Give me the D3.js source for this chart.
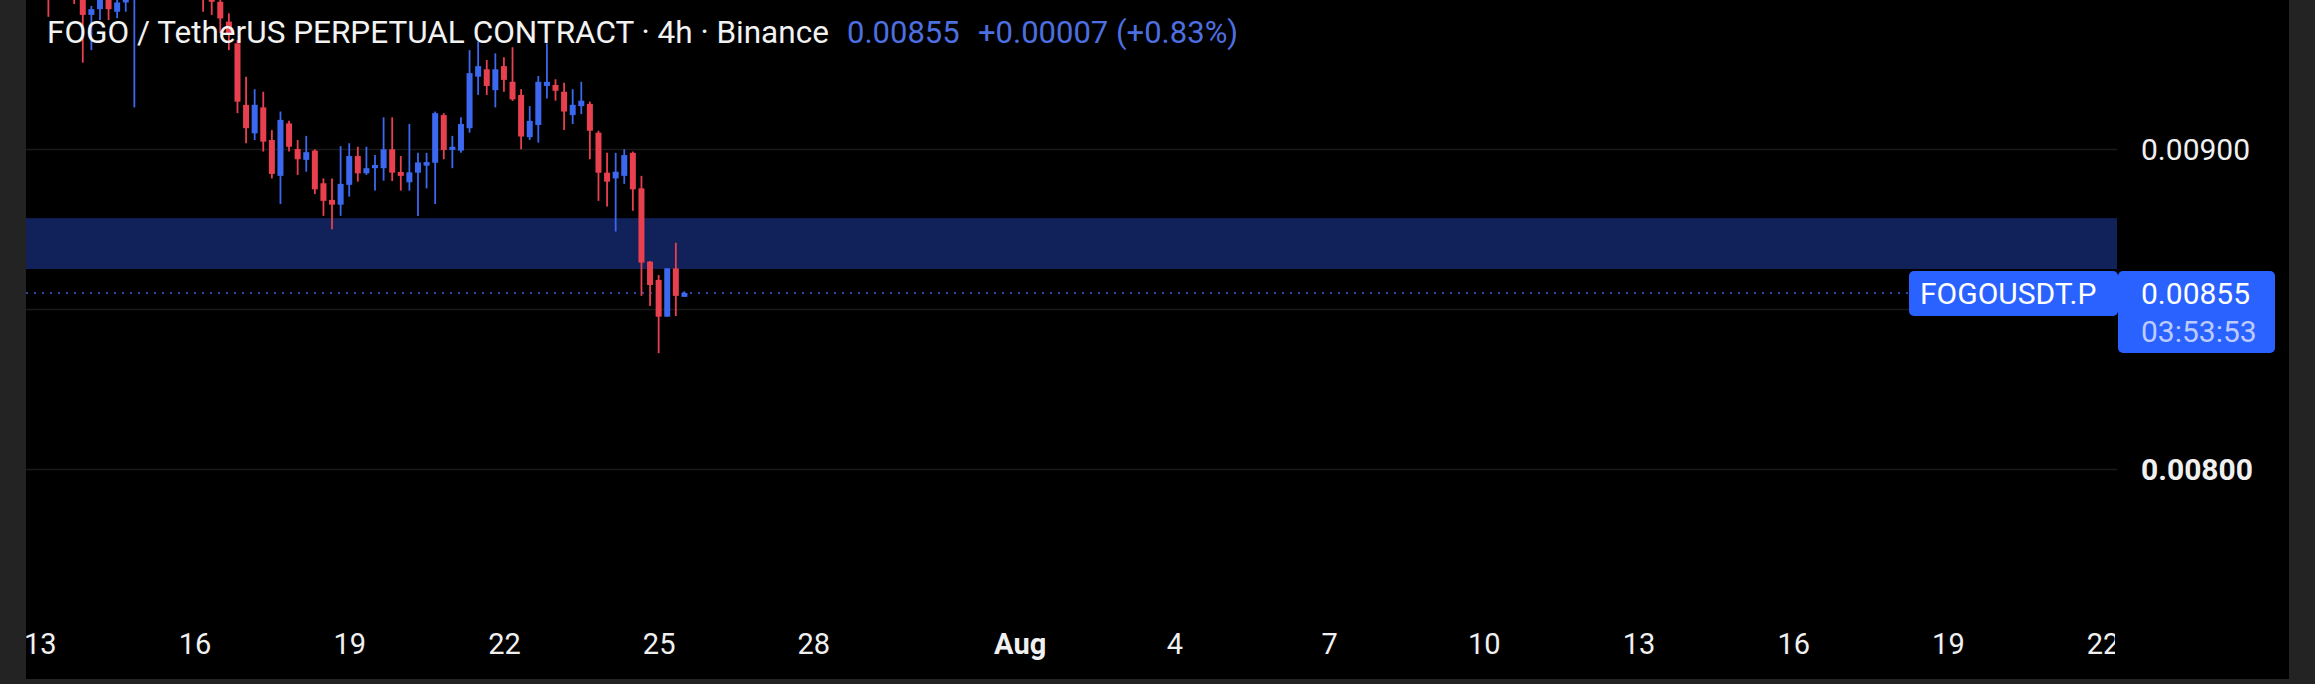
<!DOCTYPE html>
<html>
<head>
<meta charset="utf-8">
<script src="https://cdn.jsdelivr.net/npm/d3@7"></script>
<style>
  html, body { margin: 0; padding: 0; background: #000; }
  svg { display: block; }
  text { font-family: Roboto, "Noto Sans", sans-serif; }
</style>
</head>
<body>
<svg id="chart" width="2315" height="684"></svg>
<script>
// ---- data (4h candles, FOGOUSDT.P) ----
const firstCandle = "2025-07-13T04:00:00Z";
const candleHours = 4;
const opens  = [0.00958,0.00950,0.00962,0.00955,0.00950,0.009419,0.009437,0.00952,0.009429,0.009458,
                0.00952,0.00957,0.00965,0.00961,0.00968,0.00963,0.00955,0.00958,0.00953,0.00947,
                0.00946,0.009398,0.00933,0.009138,0.009049,0.00913,0.009028,0.008916,0.00908,0.00900,
                0.008966,0.008995,0.008893,0.008841,0.008826,0.008888,0.008978,0.008924,0.00894,0.00894,
                0.008999,0.008928,0.008896,0.008926,0.008948,0.008957,0.009106,0.008997,0.008995,0.009065,
                0.009226,0.009249,0.009184,0.009259,0.00921,0.009169,0.009037,0.009075,0.009197,0.00920,
                0.009179,0.009106,0.009134,0.009141,0.009051,0.008926,0.008908,0.008916,0.008988,0.008877,
                0.008648,0.008591,0.008476,0.008627,0.008538];
const highs  = [0.00962,0.00966,0.00965,0.00958,0.00952,0.009447,0.00955,0.00953,0.00950,0.00954,
                0.00960,0.00968,0.00972,0.00970,0.00975,0.00966,0.00962,0.00960,0.00955,0.00949,
                0.00947,0.009424,0.009341,0.009226,0.009187,0.009179,0.009059,0.009117,0.009088,0.009028,
                0.009041,0.008999,0.008908,0.008908,0.009009,0.009018,0.009007,0.009007,0.008981,0.009099,
                0.009099,0.008978,0.009078,0.008988,0.008988,0.009117,0.009112,0.009041,0.009099,0.009309,
                0.009335,0.009278,0.009299,0.009287,0.009318,0.009187,0.009134,0.009228,0.00933,0.009218,
                0.009207,0.009187,0.00921,0.009148,0.009057,0.008988,0.008988,0.008999,0.008992,0.008916,
                0.00865,0.008606,0.008627,0.008707,0.008555];
const lows   = [0.009413,0.00948,0.00950,0.009453,0.00927,0.009309,0.009403,0.009403,0.009409,0.009429,
                0.00913,0.00953,0.00958,0.00956,0.00960,0.00952,0.00950,0.00949,0.009429,0.009419,
                0.009362,0.009309,0.009112,0.009018,0.009028,0.008992,0.008908,0.008828,0.008992,0.008919,
                0.008929,0.008859,0.008791,0.008749,0.008791,0.008851,0.008898,0.008919,0.00887,0.008901,
                0.00890,0.00887,0.00887,0.008791,0.008877,0.008828,0.008968,0.00894,0.008988,0.009051,
                0.009169,0.009169,0.00913,0.009179,0.00915,0.008999,0.009028,0.00902,0.009158,0.009151,
                0.009059,0.009078,0.009109,0.008968,0.008838,0.00882,0.008742,0.008891,0.008807,0.008541,
                0.008509,0.008362,0.008476,0.008478,0.008538];
const closes = [0.00950,0.00962,0.00955,0.00950,0.009419,0.009437,0.00952,0.009437,0.009458,0.00952,
                0.00957,0.00965,0.00961,0.00968,0.00963,0.00955,0.00958,0.00953,0.00947,0.00946,
                0.009408,0.009362,0.009148,0.009065,0.009138,0.009023,0.008922,0.009091,0.009007,0.008968,
                0.00899,0.008874,0.008838,0.008826,0.008891,0.008978,0.008924,0.00894,0.00895,0.008999,
                0.008926,0.008916,0.008927,0.008958,0.008959,0.009112,0.008997,0.009007,0.009078,0.009237,
                0.009259,0.009197,0.009249,0.009216,0.009155,0.009039,0.009088,0.00921,0.00921,0.009182,
                0.009117,0.009138,0.009151,0.009057,0.008926,0.008898,0.008929,0.008981,0.008874,0.008645,
                0.008575,0.008476,0.008627,0.008541,0.00855];

const priceTicks = [0.0090, 0.0080];
const gridPrices = [0.0095, 0.0090, 0.0085, 0.0080];
const zoneTop = 0.008784, zoneBottom = 0.008625;
const lastPrice = 0.00855;
const timeTickDates  = ["2025-07-13","2025-07-16","2025-07-19","2025-07-22","2025-07-25","2025-07-28",
                        "2025-08-01","2025-08-04","2025-08-07","2025-08-10","2025-08-13","2025-08-16",
                        "2025-08-19","2025-08-22"];
const timeTickLabels = ["13","16","19","22","25","28","Aug","4","7","10","13","16","19","22"];

const titleText = "FOGO / TetherUS PERPETUAL CONTRACT \u00b7 4h \u00b7 Binance";
const legendPrice = "0.00855";
const legendChange = "+0.00007 (+0.83%)";
const symbolLabel = "FOGOUSDT.P";
const countdown = "03:53:53";

// ---- layout ----
const W = 2315, H = 684;
const plotL = 26, plotR = 2117, plotT = 0, plotB = 610;
const UP = "#3b68ee", DOWN = "#e8404e", ACCENT = "#2962ff";

const svg = d3.select("#chart");

const x = d3.scaleUtc()
  .domain([new Date("2025-07-13T00:00:00Z"), new Date("2025-08-22T00:00:00Z")])
  .range([39.8, 39.8 + 40 * 51.57]);
const y = d3.scaleLinear().domain([0.0080, 0.0090]).range([469, 149]);

const t0 = new Date(firstCandle).getTime();
const candles = opens.map((o, i) => ({
  t: new Date(t0 + i * candleHours * 3600e3),
  o, h: highs[i], l: lows[i], c: closes[i]
}));

// background
svg.append("rect").attr("width", W).attr("height", H).attr("fill", "#000");

svg.append("defs").append("clipPath").attr("id", "plotClip")
  .append("rect").attr("x", plotL).attr("y", plotT)
  .attr("width", plotR - plotL).attr("height", plotB - plotT);
svg.select("defs").append("clipPath").attr("id", "timeClip")
  .append("rect").attr("x", plotL).attr("y", 600)
  .attr("width", 2115 - plotL).attr("height", 80);

const plot = svg.append("g").attr("clip-path", "url(#plotClip)");

// grid
plot.selectAll("line.grid").data(gridPrices).join("line")
  .attr("class", "grid")
  .attr("x1", plotL).attr("x2", plotR)
  .attr("y1", d => Math.round(y(d)) + 0.5).attr("y2", d => Math.round(y(d)) + 0.5)
  .attr("stroke", "#1b1b1b").attr("stroke-width", 1.5);

// zone
plot.append("rect")
  .attr("x", plotL).attr("width", plotR - plotL)
  .attr("y", y(zoneTop)).attr("height", y(zoneBottom) - y(zoneTop))
  .attr("fill", "#112159");

// last price dotted line
plot.append("line")
  .attr("x1", plotL).attr("x2", 1909)
  .attr("y1", y(lastPrice)).attr("y2", y(lastPrice))
  .attr("stroke", "#3d5ed8").attr("stroke-width", 1.6)
  .attr("stroke-dasharray", "2,6");

// candles
const bodyW = 6;
const cg = plot.append("g");
cg.selectAll("line.wick").data(candles).join("line")
  .attr("class", "wick")
  .attr("x1", d => x(d.t)).attr("x2", d => x(d.t))
  .attr("y1", d => y(d.h)).attr("y2", d => y(d.l))
  .attr("stroke", d => d.c >= d.o ? UP : DOWN).attr("stroke-width", 1.8);
cg.selectAll("rect.body").data(candles).join("rect")
  .attr("class", "body")
  .attr("x", d => x(d.t) - bodyW / 2).attr("width", bodyW)
  .attr("y", d => y(Math.max(d.o, d.c)))
  .attr("height", d => Math.max(1.5, Math.abs(y(d.o) - y(d.c))))
  .attr("fill", d => d.c >= d.o ? UP : DOWN);

// title / legend
svg.append("text").attr("x", 47).attr("y", 43)
  .attr("font-size", 31.5).attr("fill", "#f2f2f2").text(titleText);
svg.append("text").attr("x", 847).attr("y", 43).attr("font-size", 31)
  .attr("fill", "#4d6fe0").text(legendPrice);
svg.append("text").attr("x", 978).attr("y", 43).attr("font-size", 31)
  .attr("fill", "#4d6fe0").style("white-space", "pre").text(legendChange);

// price axis
const pAxis = svg.append("g").attr("transform", "translate(2141,0)")
  .call(d3.axisRight(y).tickValues(priceTicks).tickFormat(d3.format(".5f"))
        .tickSize(0).tickPadding(0));
pAxis.select(".domain").remove();
pAxis.selectAll("text")
  .attr("font-family", "Roboto, sans-serif").attr("font-size", 30)
  .attr("fill", "#f0f0f0").attr("dy", "0.36em")
  .attr("font-weight", d => d === 0.008 ? "bold" : "normal");

// time axis
const tAxis = svg.append("g").attr("clip-path", "url(#timeClip)")
  .append("g").attr("transform", "translate(0,654)")
  .call(d3.axisBottom(x).tickValues(timeTickDates.map(s => new Date(s + "T00:00:00Z")))
        .tickFormat((d, i) => timeTickLabels[i]).tickSize(0).tickPadding(0));
tAxis.select(".domain").remove();
tAxis.selectAll("text")
  .attr("font-family", "Roboto, sans-serif").attr("font-size", 29)
  .attr("fill", "#f0f0f0").attr("y", 0).attr("dy", null)
  .attr("font-weight", (d, i) => timeTickLabels[i] === "Aug" ? "bold" : "normal");

// last price labels
const ly = y(lastPrice);
svg.append("rect").attr("x", 1909).attr("y", ly - 22).attr("width", 209).attr("height", 45)
  .attr("rx", 5).attr("fill", ACCENT);
svg.append("text").attr("x", 1920).attr("y", ly + 11).attr("font-size", 30)
  .attr("fill", "#ffffff").text(symbolLabel);
svg.append("rect").attr("x", 2118).attr("y", ly - 22).attr("width", 157).attr("height", 82)
  .attr("rx", 5).attr("fill", ACCENT);
svg.append("text").attr("x", 2141).attr("y", ly + 11).attr("font-size", 30)
  .attr("fill", "#ffffff").text(d3.format(".5f")(lastPrice));
svg.append("text").attr("x", 2141).attr("y", ly + 49).attr("font-size", 30)
  .attr("fill", "#bccbff").text(countdown);

// frame
svg.append("rect").attr("x", 0).attr("y", 0).attr("width", plotL).attr("height", H).attr("fill", "#232323");
svg.append("rect").attr("x", 2289).attr("y", 0).attr("width", W - 2289).attr("height", H).attr("fill", "#232323");
svg.append("rect").attr("x", 0).attr("y", 679).attr("width", W).attr("height", H - 679).attr("fill", "#232323");
</script>
</body>
</html>
